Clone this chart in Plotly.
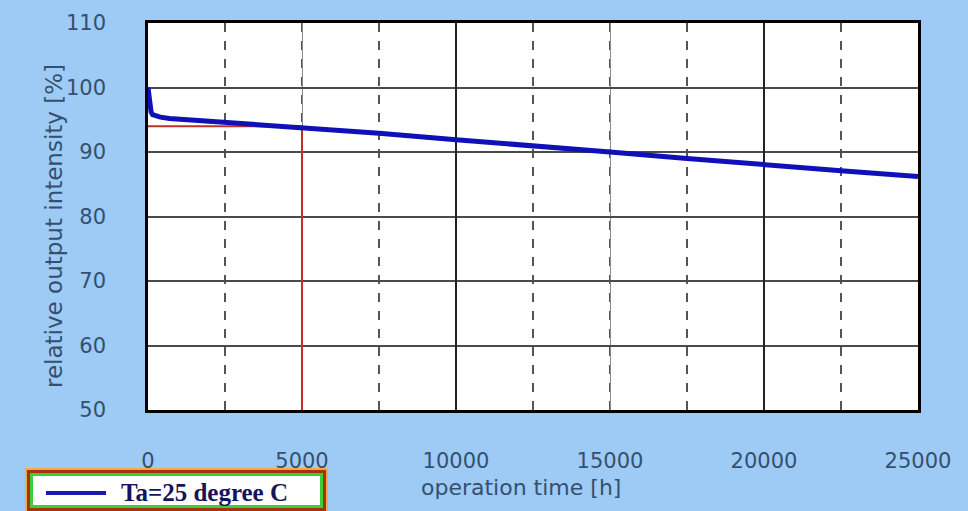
import plotly.graph_objects as go

# ---- data ----
hours = [0, 30, 60, 100, 150, 250, 400, 700, 1000, 1500, 2500, 3500, 5000,
         7500, 10000, 12500, 15000, 17500, 20000, 22500, 25000]
intensity = [100, 98.4, 97.0, 96.2, 95.8, 95.6, 95.4, 95.2, 95.1, 94.9, 94.6, 94.3, 93.9,
             92.9, 91.9, 91.0, 90.0, 89.0, 88.0, 87.1, 86.2]

ref_hours = [0, 5000, 5000]
ref_intensity = [94, 94, 50]

x_ticks = [0, 5000, 10000, 15000, 20000, 25000]
y_ticks = [50, 60, 70, 80, 90, 100, 110]

series_name = "Ta=25 degree C"
x_title = "operation time [h]"
y_title = "relative output intensity [%]"

BG = "#9ecbf5"
TICK_COLOR = "#34506e"
FONT = "DejaVu Sans"

W, H = 968, 511
L, R, T, B = 148, 50, 23, 101
PW, PH = W - L - R, H - T - B


def px(x):
    return (x - L) / PW


def py(y):
    return (H - B - y) / PH


fig = go.Figure()

fig.add_trace(go.Scatter(
    x=ref_hours, y=ref_intensity, mode="lines",
    line=dict(color="#c0302a", width=2), showlegend=False, name="reference",
))
fig.add_trace(go.Scatter(
    x=hours, y=intensity, mode="lines",
    line=dict(color="#1010b8", width=5), name=series_name, showlegend=False,
))

axis_font = dict(family=FONT, size=21, color=TICK_COLOR)

fig.update_layout(
    width=W, height=H,
    margin=dict(l=L, r=R, t=T, b=B, pad=0),
    paper_bgcolor=BG,
    plot_bgcolor="white",
    showlegend=False,
    xaxis=dict(
        range=[0, 25000], tickmode="array", tickvals=x_ticks,
        ticktext=[str(v) for v in x_ticks],
        tickfont=axis_font, ticks="", ticklabelstandoff=30,
        showgrid=True, gridcolor="#8a8a8a", gridwidth=1.2,
        minor=dict(dtick=2500, showgrid=True, gridcolor="#555555",
                   gridwidth=1.5, griddash="dash"),
        showline=True, linecolor="black", linewidth=2.5, mirror=True,
        zeroline=False,
    ),
    xaxis2=dict(
        range=[0, 25000], overlaying="x", dtick=10000, showticklabels=False,
        showgrid=True, gridcolor="#222222", gridwidth=2, zeroline=False,
        ticks="", showline=False,
    ),
    yaxis=dict(
        range=[50, 110], tickmode="array", tickvals=y_ticks,
        ticktext=[str(v) for v in y_ticks],
        tickfont=axis_font, ticks="", ticklabelstandoff=35,
        showgrid=True, gridcolor="#4a4a4a", gridwidth=2,
        showline=True, linecolor="black", linewidth=2.5, mirror=True,
        zeroline=False,
    ),
)

# invisible trace to activate the secondary grid axis
fig.add_trace(go.Scatter(x=[0], y=[50], xaxis="x2", mode="markers",
                         marker=dict(opacity=0), showlegend=False,
                         hoverinfo="skip"))

# axis titles
fig.add_annotation(
    text=x_title, xref="paper", yref="paper", x=px(521), y=py(488),
    showarrow=False, font=dict(family=FONT, size=22, color=TICK_COLOR),
    xanchor="center", yanchor="middle",
)
fig.add_annotation(
    text=y_title, xref="paper", yref="paper", x=px(54), y=py(226),
    showarrow=False, textangle=-90,
    font=dict(family=FONT, size=23, color=TICK_COLOR),
    xanchor="center", yanchor="middle",
)

# legend box (multi-coloured frame)
fig.add_shape(type="rect", xref="paper", yref="paper",
              x0=px(25), x1=px(328), y0=py(511), y1=py(468),
              fillcolor="#f3a94a", line=dict(width=0), layer="above")
fig.add_shape(type="rect", xref="paper", yref="paper",
              x0=px(27), x1=px(326), y0=py(511), y1=py(470),
              fillcolor="#a8320c", line=dict(width=0), layer="above")
fig.add_shape(type="rect", xref="paper", yref="paper",
              x0=px(30), x1=px(323), y0=py(508), y1=py(473),
              fillcolor="#3fcc3a", line=dict(width=0), layer="above")
fig.add_shape(type="rect", xref="paper", yref="paper",
              x0=px(33), x1=px(320), y0=py(505), y1=py(476),
              fillcolor="white", line=dict(width=0), layer="above")
fig.add_shape(type="line", xref="paper", yref="paper",
              x0=px(46), x1=px(106), y0=py(493), y1=py(493),
              line=dict(color="#1a1ab0", width=4), layer="above")
fig.add_annotation(
    text="<b>" + series_name + "</b>", xref="paper", yref="paper",
    x=px(119), y=py(492), showarrow=False, xanchor="left", yanchor="middle",
    font=dict(family="Liberation Serif", size=25, color="#14145a"),
)

fig.write_html("out.html",
               config={"displayModeBar": False},
               post_script="document.body.style.margin='0';"
                           "document.body.style.overflow='hidden';")
